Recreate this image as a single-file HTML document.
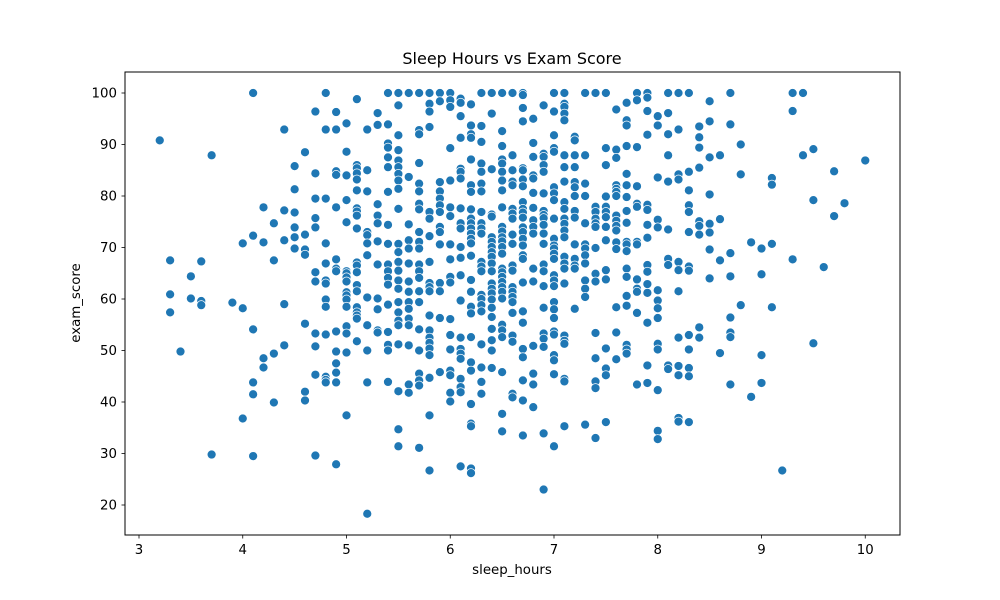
<!DOCTYPE html>
<html><head><meta charset="utf-8"><title>Sleep Hours vs Exam Score</title>
<style>
html,body{margin:0;padding:0;background:#fff;}
svg{display:block;font-family:"DejaVu Sans","Liberation Sans",sans-serif;}
</style></head>
<body>
<svg id="chart" width="1000" height="600" viewBox="0 0 1000 600">
  <rect x="0" y="0" width="1000" height="600" fill="#fff"/>
  <text x="512" y="64" text-anchor="middle" font-size="16" fill="#000">Sleep Hours vs Exam Score</text>
  <g id="points"></g>
  <rect x="125" y="72" width="775" height="463" fill="none" stroke="#000" stroke-width="1"/>
  <g id="xticks"></g>
  <g id="yticks"></g>
  <text x="512" y="574" text-anchor="middle" font-size="13.33" fill="#000">sleep_hours</text>
  <text transform="translate(80,303) rotate(-90)" text-anchor="middle" font-size="13.33" fill="#000">exam_score</text>
</svg>
<script>
const xTicks = [3,4,5,6,7,8,9,10];
const yTicks = [20,30,40,50,60,70,80,90,100];
const colHours = [3.2,3.3,3.4,3.5,3.6,3.7,3.9,4.0,4.1,4.2,4.3,4.4,4.5,4.6,4.7,4.8,4.9,5.0,5.1,5.2,5.3,5.4,5.5,5.6,5.7,5.8,5.9,6.0,6.1,6.2,6.3,6.4,6.5,6.6,6.7,6.8,6.9,7.0,7.1,7.2,7.3,7.4,7.5,7.6,7.7,7.8,7.9,8.0,8.1,8.2,8.3,8.4,8.5,8.6,8.7,8.8,8.9,9.0,9.1,9.2,9.3,9.4,9.5,9.6,9.7,9.8,10.0];
const colScores = [
[90.8],
[67.5,60.9,57.4],
[49.8],
[64.4,60.1],
[67.3,59.6,58.8],
[87.9,29.8],
[59.3],
[70.8,58.2,36.8],
[100,72.3,54.1,43.8,41.5,29.5],
[77.8,71.0,48.5,46.7],
[74.7,67.5,49.4,39.9],
[92.9,77.2,71.4,59.0,51.0],
[85.8,81.3,76.8,73.9,72.0,69.8],
[88.5,72.5,69.6,68.6,55.2,42.0,40.3],
[96.4,84.4,79.5,75.7,73.9,65.2,63.4,53.3,50.8,45.3,29.6],
[100,92.9,79.5,70.8,66.9,63.6,63.0,59.9,58.5,53.1,44.9,44.3,43.8],
[96.3,92.9,84.8,84.1,77.8,67.7,65.9,65.4,53.7,49.8,47.5,45.7,43.8,27.9],
[94.1,88.6,84.0,79.2,74.9,65.4,65.0,64.2,63.4,61.3,60.7,59.9,58.5,54.7,53.3,49.6,37.4],
[98.8,86.0,85.4,84.4,83.2,81.1,77.6,77.0,76.2,73.7,67.1,66.5,65.2,62.7,61.5,58.4,57.4,56.8,56.2,51.8],
[92.9,85.0,80.9,73.0,72.4,70.8,68.5,60.3,54.9,50.0,43.8,18.3],
[96.1,93.8,78.4,76.2,74.7,71.2,66.7,60.1,58.0,53.9,53.5],
[100,93.9,90.2,89.4,87.5,85.6,80.8,74.4,70.7,66.7,65.4,64.1,62.8,58.9,53.6,51.1,50.0,43.9],
[100,97.6,91.8,88.9,86.9,85.6,84.3,83.0,81.4,77.5,70.7,69.1,67.2,65.5,63.6,62.0,59.4,57.4,55.8,54.9,51.2,42.1,34.7,31.4],
[100,83.7,74.5,71.4,69.8,66.9,63.4,61.4,59.4,58.1,56.2,54.9,51.0,43.4,41.8],
[100,92.8,92.0,86.4,82.4,80.9,78.5,77.4,73.0,71.1,69.8,66.7,65.4,64.1,61.5,59.4,54.1,50.0,45.5,44.2,43.2,31.1],
[100,97.9,96.4,93.4,76.9,75.6,72.2,67.2,63.1,62.3,61.5,56.8,53.9,52.5,51.5,50.4,49.1,44.7,37.4,26.7],
[100,98.4,82.7,80.9,79.5,78.2,76.9,74.0,73.0,70.6,63.1,61.5,56.3,45.8],
[100,98.6,97.3,89.3,83.0,77.8,76.1,70.6,67.7,64.3,63.2,56.1,53.0,50.2,46.1,45.2,41.8,40.1],
[98.9,98.1,95.5,91.3,85.3,84.7,83.4,77.6,74.7,73.7,70.1,68.0,64.6,59.7,52.5,50.3,49.4,48.4,44.5,42.9,41.9,27.5],
[97.8,93.7,92.0,91.3,87.1,82.1,80.8,77.4,75.6,74.7,73.7,72.7,71.7,70.8,68.4,63.7,61.4,58.5,57.2,52.6,47.7,46.1,39.6,35.8,35.3,27.1,26.2],
[100,93.6,90.5,86.3,84.7,82.4,80.9,76.9,74.7,73.7,72.7,67.2,66.3,65.4,60.8,60.0,58.8,57.6,51.2,46.7,43.9,41.6],
[100,96.0,85.2,76.4,76.0,72.0,71.1,70.1,69.1,68.2,66.9,65.4,63.0,62.0,61.1,59.9,58.3,56.5,54.2,52.0,50.0,46.6],
[100,92.6,89.7,87.1,86.3,84.7,83.0,81.1,77.8,74.0,73.1,72.0,71.2,70.1,68.8,65.9,65.2,64.3,63.3,62.3,61.4,60.1,55.0,53.9,52.6,45.8,37.7,34.3],
[100,87.9,85.0,82.8,82.1,77.5,76.6,75.6,72.5,70.7,66.5,65.5,62.3,61.4,60.4,59.4,57.3,52.9,51.7,41.6,40.9],
[100,99.6,97.1,94.5,85.4,85.0,83.2,81.9,78.8,77.5,76.8,75.8,73.9,73.0,71.7,70.4,68.5,67.8,63.2,57.6,55.4,50.3,48.7,44.2,40.3,33.5],
[95.0,90.3,87.6,84.0,83.4,80.6,77.7,75.3,74.0,72.7,65.9,63.4,50.9,45.5,43.4,39.0],
[97.6,88.2,87.6,86.0,84.7,80.5,77.1,76.3,75.7,74.4,72.7,70.7,66.7,65.4,62.5,58.3,53.3,52.3,50.7,33.9,23.0],
[100,96.4,91.8,89.3,88.6,81.7,80.5,79.2,75.6,71.7,70.4,69.8,68.8,67.8,64.6,63.6,62.5,59.4,58.0,56.3,53.7,53.1,49.1,48.1,45.4,31.4],
[100,97.9,97.3,96.0,94.7,87.9,85.6,82.8,78.8,77.5,75.6,74.6,73.3,72.0,68.2,66.9,65.9,63.0,52.9,51.9,51.3,44.5,44.0,35.3],
[91.5,90.8,87.9,85.6,82.7,81.7,80.0,77.1,75.8,70.6,67.8,66.5,65.9,58.1],
[100,87.9,82.4,80.0,74.7,70.6,69.8,68.5,66.9,63.6,62.0,60.4,35.6],
[100,77.9,76.9,75.6,74.7,74.0,69.9,64.9,63.4,53.4,48.5,44.0,42.7,33.0],
[100,89.3,86.0,79.9,77.9,76.9,75.9,74.0,71.4,65.6,63.8,50.4,46.5,45.2,36.1],
[96.8,89.0,87.4,82.1,81.4,80.8,80.0,76.2,75.2,74.2,73.3,71.0,69.7,58.4,53.5,48.3],
[98.1,94.7,93.7,89.7,84.3,82.1,79.8,77.1,74.8,71.1,70.6,69.3,65.9,64.3,60.6,58.7,51.1,50.2,49.4],
[100,98.6,89.5,81.9,78.5,77.9,71.1,70.6,63.8,62.0,61.4,57.3,43.4],
[100,99.1,96.5,91.9,78.3,77.3,74.4,71.9,66.6,65.3,62.9,61.2,55.4,47.1,43.7],
[95.5,93.7,83.6,75.4,73.9,61.7,59.7,58.2,56.3,51.3,50.2,42.3,34.4,32.8],
[100,96.1,92.0,87.9,82.8,73.5,67.8,66.6,47.1,46.4],
[100,92.9,84.2,83.2,67.2,65.6,61.5,52.5,47.0,45.2,36.9,36.2],
[100,84.7,81.1,78.2,76.9,73.0,66.3,65.5,53.0,50.2,46.6,45.0,36.1],
[93.5,91.4,89.4,85.5,75.1,74.2,72.5,54.5,52.5],
[98.4,94.5,87.5,80.3,74.6,72.9,69.6,64.0],
[87.9,75.5,67.5,49.5],
[100,93.9,68.9,64.4,56.4,53.5,52.6,43.4],
[90.0,84.2,58.8],
[71.0,41.0],
[69.8,64.8,49.1,43.7],
[83.5,82.2,70.7,58.4],
[26.7],
[100,96.5,67.7],
[100,87.9],
[89.1,79.2,51.4],
[66.2],
[84.8,76.1],
[78.6],
[86.9]
];

const NS = "http://www.w3.org/2000/svg";
const X0 = 3, XPX0 = 139, XSCALE = 103.75;
const Y0 = 100, YPX0 = 93, YSCALE = 5.15;
function xScale(h){ return XPX0 + (h - X0) * XSCALE; }
function yScale(s){ return YPX0 + (Y0 - s) * YSCALE; }

const pts = document.getElementById('points');
colHours.forEach(function(h, i){
  colScores[i].forEach(function(s){
    const c = document.createElementNS(NS, 'circle');
    c.setAttribute('cx', xScale(h).toFixed(2));
    c.setAttribute('cy', yScale(s).toFixed(2));
    c.setAttribute('r', '4.5');
    c.setAttribute('fill', '#1f77b4');
    c.setAttribute('stroke', '#fff');
    c.setAttribute('stroke-width', '0.75');
    
    
    pts.appendChild(c);
  });
});

const xg = document.getElementById('xticks');
xTicks.forEach(function(t){
  const x = xScale(t);
  const l = document.createElementNS(NS, 'line');
  l.setAttribute('x1', x); l.setAttribute('x2', x);
  l.setAttribute('y1', 535); l.setAttribute('y2', 538.5);
  l.setAttribute('stroke', '#000'); l.setAttribute('stroke-width', '0.8');
  
  
  xg.appendChild(l);
  const tx = document.createElementNS(NS, 'text');
  tx.setAttribute('x', x); tx.setAttribute('y', 554);
  tx.setAttribute('text-anchor', 'middle'); tx.setAttribute('font-size', '13.33');
  tx.textContent = t;
  
  
  xg.appendChild(tx);
});
const yg = document.getElementById('yticks');
yTicks.forEach(function(t){
  const y = yScale(t);
  const l = document.createElementNS(NS, 'line');
  l.setAttribute('x1', 121.5); l.setAttribute('x2', 125);
  l.setAttribute('y1', y); l.setAttribute('y2', y);
  l.setAttribute('stroke', '#000'); l.setAttribute('stroke-width', '0.8');
  
  
  yg.appendChild(l);
  const tx = document.createElementNS(NS, 'text');
  tx.setAttribute('x', 117); tx.setAttribute('y', y + 4.5);
  tx.setAttribute('text-anchor', 'end'); tx.setAttribute('font-size', '13.33');
  tx.textContent = t;
  
  
  yg.appendChild(tx);
});
</script>
</body></html>
